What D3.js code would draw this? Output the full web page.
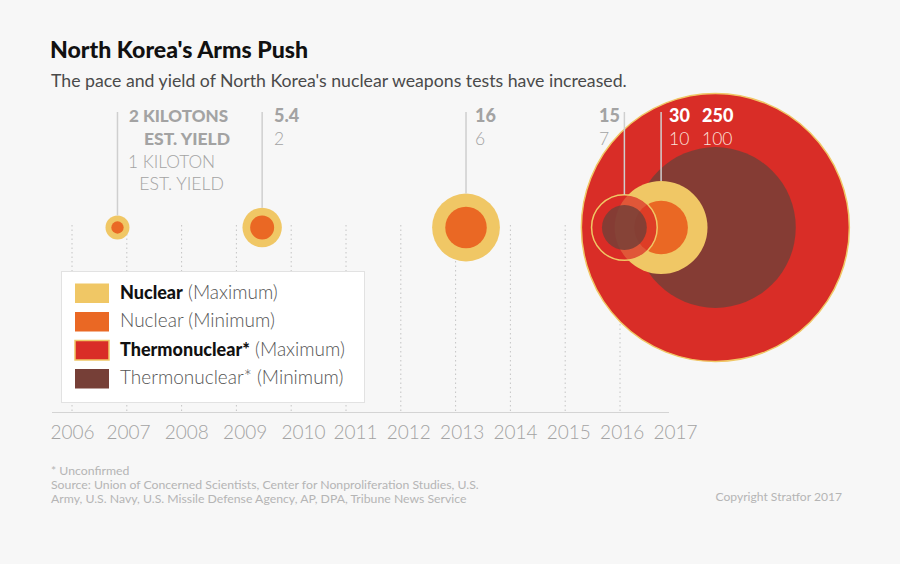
<!DOCTYPE html>
<html>
<head>
<meta charset="utf-8">
<script src="https://cdnjs.cloudflare.com/ajax/libs/d3/7.8.5/d3.min.js"></script>
<style>
  html, body { margin: 0; padding: 0; background: #f7f7f7; }
  svg { display: block; font-family: Lato, "Open Sans", sans-serif; }
</style>
</head>
<body>
<svg width="900" height="564"></svg>
<script>
// tests, in decimal years
var testDates = [2006.83, 2009.47, 2013.19, 2016.08, 2016.75, 2017.74];
var testTypes = ["nuclear", "nuclear", "nuclear", "thermo", "nuclear", "thermo"];
var yieldMax = [2, 5.4, 16, 15, 30, 250];
// min yield as the circle areas show it, the printed numbers are below
var yieldMin = [0.53, 2, 6, 7, 10, 90];
var maxLabels = ["2 KILOTONS", "5.4", "16", "15", "30", "250"];
var minLabels = ["1 KILOTON", "2", "6", "7", "10", "100"];
var years = [2006, 2007, 2008, 2009, 2010, 2011, 2012, 2013, 2014, 2015, 2016, 2017];

var legendNames = ["Nuclear", "Nuclear", "Thermonuclear*", "Thermonuclear*"];
var legendNotes = [" (Maximum)", " (Minimum)", " (Maximum)", " (Minimum)"];
var legendColors = ["#f0c765", "#ea6824", "#d92d27", "#763f37"];

var sourceLines = [
  "* Unconfirmed",
  "Source: Union of Concerned Scientists, Center for Nonproliferation Studies, U.S.",
  "Army, U.S. Navy, U.S. Missile Defense Agency, AP, DPA, Tribune News Service"
];

var svg = d3.select("svg");

var xScale = d3.scaleLinear().domain([2006, 2016]).range([72, 620]);
// year labels are not quite under their gridlines in the original
var labelScale = d3.scaleLinear()
  .domain([2006, 2007, 2010, 2011, 2017])
  .range([72, 128, 303, 355, 675]);
var rScale = d3.scaleSqrt().domain([0, 250]).range([0, 134]);

var baseY = 412.5;
var circleY = 227.5;
var stemTop = 112;

// title
svg.append("text").attr("x", 50).attr("y", 58)
  .style("font-size", "23.1px").style("font-weight", 900).style("fill", "#111")
  .text("North Korea's Arms Push");
svg.append("text").attr("x", 51).attr("y", 87)
  .style("font-size", "17.7px").style("fill", "#4a4a4a")
  .text("The pace and yield of North Korea's nuclear weapons tests have increased.");

// dotted gridlines
svg.append("g").selectAll("line")
  .data(years.slice(0, 11))
  .enter()
  .append("line")
  .attr("x1", function(d) { return xScale(d); })
  .attr("x2", function(d) { return xScale(d); })
  .attr("y1", 225)
  .attr("y2", baseY)
  .attr("stroke", "#c4c4c4")
  .attr("stroke-dasharray", "1.5,3");

// baseline and year labels
var axis = d3.axisBottom(labelScale)
  .tickValues(years)
  .tickFormat(d3.format("d"))
  .tickSize(0)
  .tickPadding(13);
var axisG = svg.append("g").attr("transform", "translate(0," + baseY + ")").call(axis);
axisG.select(".domain").remove();
axisG.selectAll("text")
  .style("font-family", "Lato, sans-serif")
  .style("font-size", "19px")
  .style("font-weight", 300)
  .style("fill", "#a3a3a3");
svg.append("line")
  .attr("x1", 52).attr("x2", 669)
  .attr("y1", baseY).attr("y2", baseY)
  .attr("stroke", "#d4d4d4");

// circles, biggest test first so the small ones stay on top
var order = [5, 0, 1, 2, 4, 3];
var tests = order.map(function(i) {
  return { x: xScale(testDates[i]), type: testTypes[i], max: yieldMax[i], min: yieldMin[i], i: i };
});

var groups = svg.append("g").selectAll("g")
  .data(tests)
  .enter()
  .append("g")
  .attr("transform", function(d) { return "translate(" + d.x + "," + circleY + ")"; });

groups.append("circle")
  .attr("r", function(d) { return rScale(d.max); })
  .attr("fill", function(d) { return d.type == "thermo" ? legendColors[2] : legendColors[0]; })
  .attr("fill-opacity", function(d) { return d.i == 3 ? 0.72 : 1; })
  .attr("stroke", function(d) { return d.type == "thermo" ? legendColors[0] : "none"; })
  .attr("stroke-width", 1.5);

groups.append("circle")
  .attr("r", function(d) { return rScale(d.min); })
  .attr("fill", function(d) { return d.type == "thermo" ? legendColors[3] : legendColors[1]; })
  .attr("fill-opacity", function(d) { return d.type == "thermo" ? 0.85 : 1; });

// stems from the labels to the top of each circle (none for the largest)
svg.append("g").selectAll("line")
  .data(tests.filter(function(d) { return d.i != 5; }))
  .enter()
  .append("line")
  .attr("x1", function(d) { return d.x; })
  .attr("x2", function(d) { return d.x; })
  .attr("y1", stemTop)
  .attr("y2", function(d) { return circleY - rScale(d.max); })
  .attr("stroke", "#cfcfcf")
  .attr("stroke-width", 1.5);

// yield labels
var labelX = [129, 274, 475, 599, 669, 702];
var labels = svg.append("g").selectAll("g")
  .data(d3.range(1, 6))
  .enter()
  .append("g");
labels.append("text")
  .attr("x", function(i) { return labelX[i]; })
  .attr("y", 122)
  .style("font-size", "18px")
  .style("font-weight", 900)
  .style("fill", function(i) { return i > 3 ? "#fff" : "#a3a3a3"; })
  .text(function(i) { return maxLabels[i]; });
labels.append("text")
  .attr("x", function(i) { return labelX[i]; })
  .attr("y", 145)
  .style("font-size", "17.5px")
  .style("font-weight", 300)
  .style("fill", function(i) { return i > 3 ? "#fbe3dc" : "#a3a3a3"; })
  .text(function(i) { return minLabels[i]; });

// the first test carries the long labels
svg.append("text").attr("x", 129).attr("y", 122)
  .style("font-size", "17px").style("font-weight", 900).style("fill", "#a3a3a3")
  .text(maxLabels[0]);
svg.append("text").attr("x", 230).attr("y", 145).attr("text-anchor", "end")
  .style("font-size", "17.5px").style("font-weight", 900).style("fill", "#a3a3a3")
  .text("EST. YIELD");
svg.append("text").attr("x", 128).attr("y", 168)
  .style("font-size", "17.3px").style("font-weight", 300).style("fill", "#a3a3a3")
  .text(minLabels[0]);
svg.append("text").attr("x", 224).attr("y", 190).attr("text-anchor", "end")
  .style("font-size", "17.7px").style("font-weight", 300).style("fill", "#a3a3a3")
  .text("EST. YIELD");

// legend
var legend = svg.append("g");
legend.append("rect")
  .attr("x", 61.5).attr("y", 271.5).attr("width", 303).attr("height", 131)
  .attr("fill", "#fff").attr("stroke", "#e2e2e2");
var legendY = d3.scaleLinear().domain([0, 3]).range([283.5, 369]);
var rows = legend.selectAll("g")
  .data(d3.range(4))
  .enter()
  .append("g")
  .attr("transform", function(i) { return "translate(0," + legendY(i) + ")"; });
rows.append("rect")
  .attr("x", 75).attr("width", 34).attr("height", 19.5)
  .attr("fill", function(i) { return legendColors[i]; })
  .attr("stroke", function(i) { return i == 2 ? legendColors[0] : "none"; })
  .attr("stroke-width", 1.5);
var rowText = rows.append("text")
  .attr("x", 120).attr("y", 15);
rowText.append("tspan")
  .style("font-size", function(i) { return i % 2 == 0 ? "18px" : "19px"; })
  .style("font-weight", function(i) { return i % 2 == 0 ? 900 : 300; })
  .style("fill", function(i) { return i % 2 == 0 ? "#111" : "#555"; })
  .text(function(i) { return legendNames[i]; });
rowText.append("tspan")
  .style("font-size", "19px")
  .style("font-weight", 300)
  .style("fill", "#555")
  .text(function(i) { return legendNotes[i]; });

// footer
svg.append("g").selectAll("text")
  .data(sourceLines)
  .enter()
  .append("text")
  .attr("x", 51)
  .attr("y", function(d, i) { return 475 + i * 14.1; })
  .style("font-size", "12.25px")
  .style("fill", "#b5b5b5")
  .text(function(d) { return d; });
svg.append("text").attr("x", 842).attr("y", 501).attr("text-anchor", "end")
  .style("font-size", "12.1px").style("fill", "#b5b5b5")
  .text("Copyright Stratfor 2017");
</script>
</body>
</html>
